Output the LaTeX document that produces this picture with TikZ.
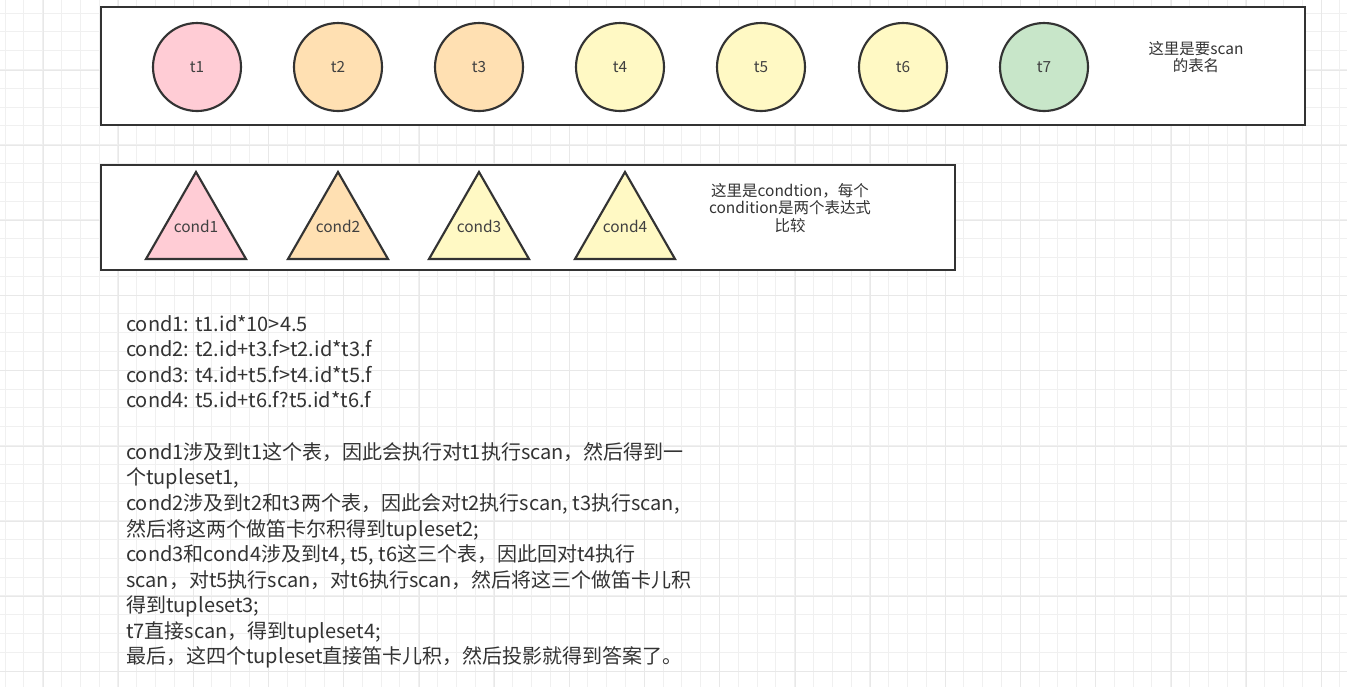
\documentclass[tikz,border=0pt]{standalone}
\usepackage{fontspec}
\setmainfont{Noto Sans CJK SC}
\begin{document}
\begin{tikzpicture}[x=0.75pt,y=-0.75pt,
  shp/.style={draw=black!80,line width=1.6pt},
  circ/.style={shp,circle,minimum size=66pt,inner sep=0pt,font=\fontsize{11.5}{13}\selectfont,text=black!75},
  lbl/.style={font=\fontsize{11.6}{13.2}\selectfont,text=black!80,align=center},
  box/.style={draw=black!80,line width=1.8pt,fill=white}]
\useasboundingbox (0,0) rectangle (1347,687);
\fill[white] (0,0) rectangle (1347,687);
\foreach \i in {0,...,71} {\draw[black!6,line width=0.6pt] ({5+18.8*\i},0) -- ({5+18.8*\i},687);}
\foreach \i in {0,...,36} {\draw[black!6,line width=0.6pt] (0,{13+18.8*\i}) -- (1347,{13+18.8*\i});}
\foreach \i in {0,...,18} {\draw[black!9,line width=0.7pt] ({43+75.2*\i},0) -- ({43+75.2*\i},687);}
\foreach \i in {0,...,9} {\draw[black!9,line width=0.7pt] (0,{70+75.2*\i}) -- (1347,{70+75.2*\i});}
\draw[box] (101,7) rectangle (1305,125);
\draw[box] (101,165) rectangle (955,270);
\definecolor{cpink}{HTML}{FFCCD5}
\definecolor{corange}{HTML}{FFE0B2}
\definecolor{cyellow}{HTML}{FFF9C4}
\definecolor{cgreen}{HTML}{C8E6C9}
\node[circ,fill=cpink] (t1) at (197,67) {t1};
\node[circ,fill=corange] (t2) at (338,67) {t2};
\node[circ,fill=corange] (t3) at (479,67) {t3};
\node[circ,fill=cyellow] (t4) at (620,67) {t4};
\node[circ,fill=cyellow] (t5) at (761,67) {t5};
\node[circ,fill=cyellow] (t6) at (903,67) {t6};
\node[circ,fill=cgreen] (t7) at (1044,67) {t7};
\node[lbl] (tl) at (1196,57) {这里是要scan\\的表名};
\foreach \n/\x/\c in {cond1/196/cpink,cond2/338/corange,cond3/479/cyellow,cond4/625/cyellow}{
  \draw[shp,fill=\c] (\x,172) -- (\x+50,259) -- (\x-50,259) -- cycle;
  \node[lbl,text=black!75] (\n) at (\x,226) {\n};
}
\node[lbl] (cl) at (790,208) {这里是condtion，每个\\condition是两个表达式\\比较};
\node[anchor=north west,align=left,inner sep=0pt,text=black!80,
  font=\fontsize{15}{19.2}\selectfont] (txt) at (126,315) {cond1: t1.id*10>4.5\\
cond2: t2.id+t3.f>t2.id*t3.f\\
cond3: t4.id+t5.f>t4.id*t5.f\\
cond4: t5.id+t6.f?t5.id*t6.f\\[19.2pt]
cond1涉及到t1这个表，因此会执行对t1执行scan，然后得到一\\
个tupleset1,\\
cond2涉及到t2和t3两个表，因此会对t2执行scan, t3执行scan,\\
然后将这两个做笛卡尔积得到tupleset2;\\
cond3和cond4涉及到t4, t5, t6这三个表，因此回对t4执行\\
scan，对t5执行scan，对t6执行scan，然后将这三个做笛卡儿积\\
得到tupleset3;\\
t7直接scan，得到tupleset4;\\
最后，这四个tupleset直接笛卡儿积，然后投影就得到答案了。};
\end{tikzpicture}
\end{document}
